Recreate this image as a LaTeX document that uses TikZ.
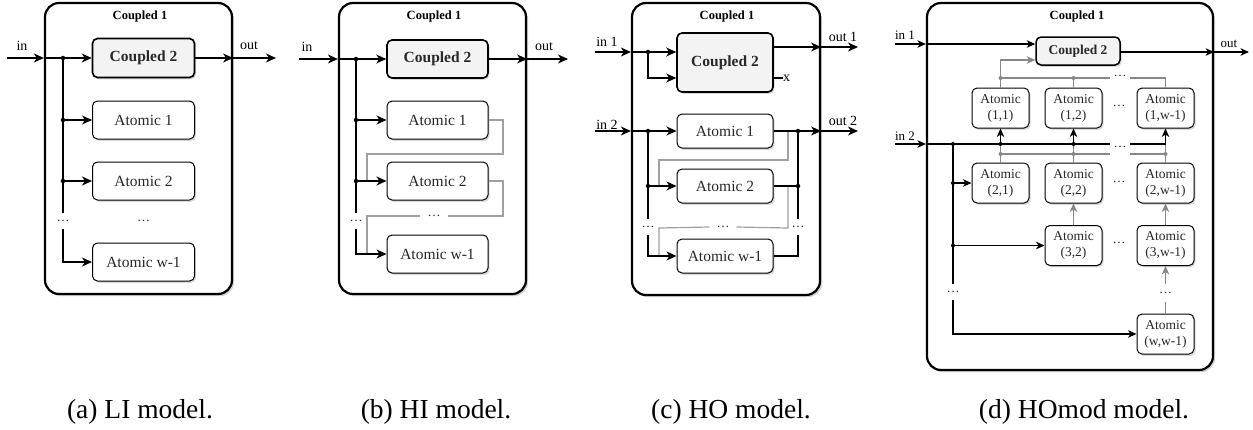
\documentclass[tikz,border=0pt]{standalone}
\usepackage{fontspec}
\setmainfont{Liberation Serif}
\usetikzlibrary{arrows.meta,shadows,calc}
\definecolor{glc}{RGB}{160,160,160}
\definecolor{gld}{RGB}{135,135,135}
\definecolor{fillc}{RGB}{243,243,243}
\definecolor{txtc}{RGB}{40,40,40}
\tikzset{
  myshadow/.style={drop shadow={shadow xshift=1.6pt,shadow yshift=-1.8pt,opacity=0.3}},
  outerbox/.style={draw,line width=2.2pt,rounded corners=14pt,fill=white,inner sep=0pt,
     drop shadow={shadow xshift=2pt,shadow yshift=-2.2pt,opacity=0.35}},
  cplbox/.style={draw,line width=1.6pt,rounded corners=5pt,fill=fillc,myshadow,inner sep=0pt,
     font=\fontsize{15.5}{18}\selectfont\bfseries,text=txtc},
  atbox/.style={draw,line width=1pt,rounded corners=5pt,fill=white,myshadow,inner sep=0pt,
     font=\fontsize{15.5}{18}\selectfont,text=txtc},
  smbox/.style={atbox,font=\fontsize{13.5}{16}\selectfont,align=center,minimum width=57pt,minimum height=40pt},
  ttl/.style={font=\fontsize{12.5}{14}\selectfont\bfseries,inner sep=0pt},
  lbl/.style={font=\fontsize{14}{16}\selectfont,inner sep=0pt},
  slbl/.style={font=\fontsize{13}{15}\selectfont,inner sep=0pt},
  dotsn/.style={font=\fontsize{13}{15}\selectfont,inner xsep=4pt,inner ysep=0pt,minimum height=16pt,text=txtc},
  conn/.style={line width=1.2pt},
  arr/.style={conn,-{Stealth[length=10pt,width=9pt,inset=3pt]}},
  sarr/.style={conn,-{Stealth[length=8.5pt,width=7.5pt,inset=2.5pt]}},
  gconn/.style={conn,draw=glc},
  gdconn/.style={conn,draw=gld},
  gdarr/.style={conn,draw=gld,-{Stealth[length=8.5pt,width=7.5pt,inset=2.5pt]}},
  jdot/.style={circle,fill,inner sep=0pt,minimum size=4.5pt},
  gjdot/.style={circle,fill=gld,inner sep=0pt,minimum size=4pt},
  capt/.style={font=\fontsize{27.5}{33}\selectfont,anchor=base,inner sep=0pt}
}
\begin{document}
\begin{tikzpicture}[x=1pt,y=-1pt]
\useasboundingbox (0,0) rectangle (1253,429);

% ================= (a) LI =================
\node[outerbox,minimum width=187pt,minimum height=291pt] (a-out) at (138.5,148.5) {};
\node[ttl] (a-t) at (140,16) {Coupled 1};
\node[cplbox,minimum width=102pt,minimum height=39pt] (a-c2) at (143.5,58) {Coupled 2};
\node[atbox,minimum width=102pt,minimum height=38pt] (a-a1) at (143.5,120) {Atomic 1};
\node[atbox,minimum width=102pt,minimum height=38pt] (a-a2) at (143.5,181) {Atomic 2};
\node[atbox,minimum width=102pt,minimum height=38pt] (a-aw) at (143.5,262) {Atomic w-1};
\node[dotsn] (a-dl) at (63,221) {…};
\node[dotsn] (a-dm) at (143.5,221) {…};
\node[lbl] (a-in) at (22,46) {in};
\node[lbl] (a-ol) at (249,46) {out};
\coordinate (a-s) at (7,58);
\coordinate (a-e) at (276,58);
\coordinate (a-j) at (63,58);
\draw[arr] (a-s) -- (a-s -| a-out.west);
\draw[arr] (a-s -| a-out.west) -- (a-c2.west);
\draw[arr] (a-c2.east) -- (a-c2.east -| a-out.east);
\draw[arr] (a-c2.east -| a-out.east) -- (a-e);
\draw[conn] (a-j) -- (a-j |- a-dl.north);
\draw[arr] (a-j |- a-a1.west) -- (a-a1.west);
\draw[arr] (a-j |- a-a2.west) -- (a-a2.west);
\draw[arr] (a-j |- a-dl.south) |- (a-aw.west);
\node[jdot] (a-j0) at (a-j) {};
\node[jdot] (a-j1) at (a-j |- a-a1.west) {};
\node[jdot] (a-j2) at (a-j |- a-a2.west) {};

% ================= (b) HI =================
\node[outerbox,minimum width=187pt,minimum height=291pt] (b-out) at (432.5,148.5) {};
\node[ttl] (b-t) at (434,16) {Coupled 1};
\node[cplbox,minimum width=101pt,minimum height=38pt] (b-c2) at (437.5,59) {Coupled 2};
\node[atbox,minimum width=101pt,minimum height=38pt] (b-a1) at (437.5,120) {Atomic 1};
\node[atbox,minimum width=101pt,minimum height=38pt] (b-a2) at (437.5,181) {Atomic 2};
\node[atbox,minimum width=101pt,minimum height=38pt] (b-aw) at (437.5,254) {Atomic w-1};
\node[dotsn] (b-dl) at (356,221) {…};
\node[dotsn,inner xsep=7pt,fill=white] (b-dm) at (434,216) {…};
\node[lbl] (b-in) at (307,47) {in};
\node[lbl] (b-ol) at (544,47) {out};
\coordinate (b-s) at (299,59);
\coordinate (b-e) at (568,59);
\coordinate (b-j) at (356,59);
\coordinate (b-r1) at (503,154);
\coordinate (b-l1) at (367,154);
\coordinate (b-r2) at (503,216);
\coordinate (b-l2) at (367,216);
\draw[gconn] (b-a1.east) -| (b-r1) -- (b-l1) -- (b-l1 |- b-a2.west);
\draw[gconn] (b-a2.east) -| (b-r2) -- (b-dm.east);
\draw[gconn] (b-dm.west) -- (b-l2) -- (b-l2 |- b-aw.west);
\draw[arr] (b-s) -- (b-s -| b-out.west);
\draw[arr] (b-s -| b-out.west) -- (b-c2.west);
\draw[arr] (b-c2.east) -- (b-c2.east -| b-out.east);
\draw[arr] (b-c2.east -| b-out.east) -- (b-e);
\draw[conn] (b-j) -- (b-j |- b-dl.north);
\draw[arr] (b-j |- b-a1.west) -- (b-a1.west);
\draw[arr] (b-j |- b-a2.west) -- (b-a2.west);
\draw[arr] (b-j |- b-dl.south) |- (b-aw.west);
\node[jdot] (b-j0) at (b-j) {};
\node[jdot] (b-j1) at (b-j |- b-a1.west) {};
\node[jdot] (b-j2) at (b-j |- b-a2.west) {};

% ================= (c) HO =================
\node[outerbox,minimum width=188pt,minimum height=292pt] (c-out) at (726,149) {};
\node[ttl] (c-t) at (727,16) {Coupled 1};
\node[cplbox,minimum width=96pt,minimum height=59pt] (c-c2) at (725,62.5) {Coupled 2};
\node[atbox,minimum width=96pt,minimum height=34pt] (c-a1) at (725,131) {Atomic 1};
\node[atbox,minimum width=96pt,minimum height=34pt] (c-a2) at (725,186) {Atomic 2};
\node[atbox,minimum width=96pt,minimum height=34pt] (c-aw) at (725,256) {Atomic w-1};
\node[dotsn] (c-dl) at (648,227) {…};
\node[dotsn] (c-dr) at (798,227) {…};
\node[dotsn,inner xsep=7pt,fill=white] (c-dm) at (723,227) {…};
\node[lbl] (c-in1) at (607,42) {in 1};
\node[lbl] (c-in2) at (607,125) {in 2};
\node[lbl] (c-o1) at (843,37) {out 1};
\node[lbl] (c-o2) at (843,121) {out 2};
\node[lbl,anchor=west] (c-x) at (783,78) {x};
\coordinate (c-s1) at (595,52);
\coordinate (c-s2) at (595,131);
\coordinate (c-e1) at (858,47);
\coordinate (c-e2) at (858,131);
\coordinate (c-j) at (648,52);
\coordinate (c-jb) at (648,78);
\coordinate (c-k) at (798,131);
\coordinate (c-g1) at (788,160);
\coordinate (c-h1) at (659,160);
\coordinate (c-g2) at (788,228);
\coordinate (c-h2) at (659,228);
% gray
\draw[gconn] (c-g1 |- c-a1.east) -- (c-g1) -- (c-h1) -- (c-h1 |- c-a2.west);
\draw[gconn] (c-g2 |- c-a2.east) -- (c-g2) -- (c-dm.east);
\draw[gconn] (c-dm.west) -- (c-h2) -- (c-h2 |- c-aw.west);
% top
\draw[arr] (c-s1) -- (c-s1 -| c-out.west);
\draw[arr] (c-s1 -| c-out.west) -- (c-s1 -| c-c2.west);
\draw[arr] (c-j) -- (c-jb) -- (c-jb -| c-c2.west);
\draw[arr] (c-e1 -| c-c2.east) -- (c-e1 -| c-out.east);
\draw[arr] (c-e1 -| c-out.east) -- (c-e1);
\draw[conn] (c-x.west -| c-c2.east) -- (c-x.west);
% lower
\draw[arr] (c-s2) -- (c-s2 -| c-out.west);
\draw[arr] (c-s2 -| c-out.west) -- (c-a1.west);
\draw[conn] (c-j |- c-s2) -- (c-dl.north);
\draw[arr] (c-j |- c-a2.west) -- (c-a2.west);
\draw[arr] (c-dl.south) |- (c-aw.west);
\draw[arr] (c-a1.east) -- (c-a1.east -| c-out.east);
\draw[arr] (c-a1.east -| c-out.east) -- (c-e2);
\draw[conn] (c-a2.east) -- (c-a2.east -| c-k) -- (c-k);
\draw[conn] (c-a2.east -| c-k) -- (c-dr.north);
\draw[conn] (c-aw.east) -| (c-dr.south);
\node[jdot] (c-j0) at (c-j) {};
\node[jdot] (c-j1) at (c-j |- c-s2) {};
\node[jdot] (c-j2) at (c-j |- c-a2.west) {};
\node[jdot] (c-k1) at (c-k) {};
\node[jdot] (c-k2) at (c-a2.east -| c-k) {};

% ================= (d) HOmod =================
\node[outerbox,minimum width=286pt,minimum height=367pt] (d-out) at (1070,186.5) {};
\node[ttl] (d-t) at (1077,16) {Coupled 1};
\node[cplbox,font=\fontsize{13.5}{15}\selectfont\bfseries,line width=1.5pt,minimum width=84pt,minimum height=28pt] (d-c2) at (1078,51) {Coupled 2};
\node[smbox] (d-a11) at (1000.5,108) {Atomic\\(1,1)};
\node[smbox] (d-a12) at (1073.5,108) {Atomic\\(1,2)};
\node[smbox] (d-a13) at (1165.5,108) {Atomic\\(1,w-1)};
\node[smbox] (d-a21) at (1000.5,183) {Atomic\\(2,1)};
\node[smbox] (d-a22) at (1073.5,183) {Atomic\\(2,2)};
\node[smbox] (d-a23) at (1165.5,183) {Atomic\\(2,w-1)};
\node[smbox] (d-a32) at (1073.5,245.5) {Atomic\\(3,2)};
\node[smbox] (d-a33) at (1165.5,245.5) {Atomic\\(3,w-1)};
\node[smbox] (d-aw3) at (1165.5,334) {Atomic\\(w,w-1)};
\node[dotsn] (d-r1) at (1119,106) {…};
\node[dotsn] (d-r2) at (1119,182) {…};
\node[dotsn] (d-r3) at (1119,243) {…};
\node[dotsn,minimum height=8pt,inner xsep=3pt] (d-gt) at (1120,76) {…};
\node[dotsn,minimum height=8pt,inner xsep=3pt] (d-gm) at (1120,147) {…};
\node[dotsn] (d-dl) at (953,292) {…};
\node[dotsn,minimum height=18pt] (d-dr) at (1165.5,293) {…};
\node[slbl] (d-in1) at (905,35) {in 1};
\node[slbl] (d-in2) at (905,136) {in 2};
\node[slbl] (d-ol) at (1229,44) {out};
\coordinate (d-s1) at (895,44);
\coordinate (d-s2) at (895,144);
\coordinate (d-e) at (1249,52);
\coordinate (d-bt) at (0,78);
\coordinate (d-bm) at (0,154);
\coordinate (d-lx) at (953,144);
% gray connectors
\draw[gdarr] (d-a11.north) |- ($(d-c2.west)+(0,9)$);
\draw[gdconn] (d-a11.north |- d-bt) -- (d-gt.west |- d-bt);
\draw[gdconn] (d-gt.east |- d-bt) -| (d-a13.north);
\draw[gdconn] (d-a12.north) -- (d-a12.north |- d-bt);
\draw[gdconn] (d-a21.north) -- (d-a21.north |- d-s2);
\draw[gdconn] (d-a22.north) -- (d-a22.north |- d-s2);
\draw[gdconn] (d-a23.north) -- (d-a23.north |- d-s2);
\draw[gdconn] (d-a21.north |- d-bm) -- (d-gm.west |- d-bm);
\draw[gdconn] (d-gm.east |- d-bm) -- (d-a23.north |- d-bm);
\draw[gdarr] (d-a32.north) -- (d-a22.south);
\draw[gdarr] (d-a33.north) -- (d-a23.south);
\draw[gdarr] (d-dr.north) -- (d-a33.south);
\draw[gdconn] (d-aw3.north) -- (d-dr.south);
\node[gjdot] (d-gd1) at (d-a11.north |- d-bt) {};
\node[gjdot] (d-gd2) at (d-a12.north |- d-bt) {};
\node[gjdot] (d-gd3) at (d-a21.north |- d-bm) {};
\node[gjdot] (d-gd4) at (d-a22.north |- d-bm) {};
\node[gjdot] (d-gd5) at (d-a23.north |- d-bm) {};
% black connectors
\draw[sarr] (d-s1) -- (d-s1 -| d-out.west);
\draw[sarr] (d-s1 -| d-out.west) -- (d-s1 -| d-c2.west);
\draw[sarr] (d-e -| d-c2.east) -- (d-e -| d-out.east);
\draw[sarr] (d-e -| d-out.east) -- (d-e);
\draw[sarr] (d-s2) -- (d-s2 -| d-out.west);
\draw[conn] (d-s2 -| d-out.west) -- (d-gm.west |- d-s2);
\draw[sarr] (d-gm.east |- d-s2) -| (d-a13.south);
\draw[sarr] (d-a11.south |- d-s2) -- (d-a11.south);
\draw[sarr] (d-a12.south |- d-s2) -- (d-a12.south);
\draw[conn] (d-lx) -- (d-dl.north);
\draw[sarr] (d-lx |- d-a21.west) -- (d-a21.west);
\draw[sarr] (d-lx |- d-a32.west) -- (d-a32.west);
\draw[sarr] (d-dl.south) |- (d-aw3.west);
\node[jdot,minimum size=4pt] (d-j0) at (d-lx) {};
\node[jdot,minimum size=4pt] (d-j1) at (d-a11.south |- d-s2) {};
\node[jdot,minimum size=4pt] (d-j2) at (d-a12.south |- d-s2) {};
\node[jdot,minimum size=4pt] (d-j3) at (d-lx |- d-a21.west) {};
\node[jdot,minimum size=4pt] (d-j4) at (d-lx |- d-a32.west) {};

% ================= captions =================
\node[capt] (cap-a) at (140,418) {(a) LI model.};
\node[capt] (cap-b) at (436,418) {(b) HI model.};
\node[capt] (cap-c) at (731,418) {(c) HO model.};
\node[capt] (cap-d) at (1084,418) {(d) HOmod model.};
\end{tikzpicture}
\end{document}
